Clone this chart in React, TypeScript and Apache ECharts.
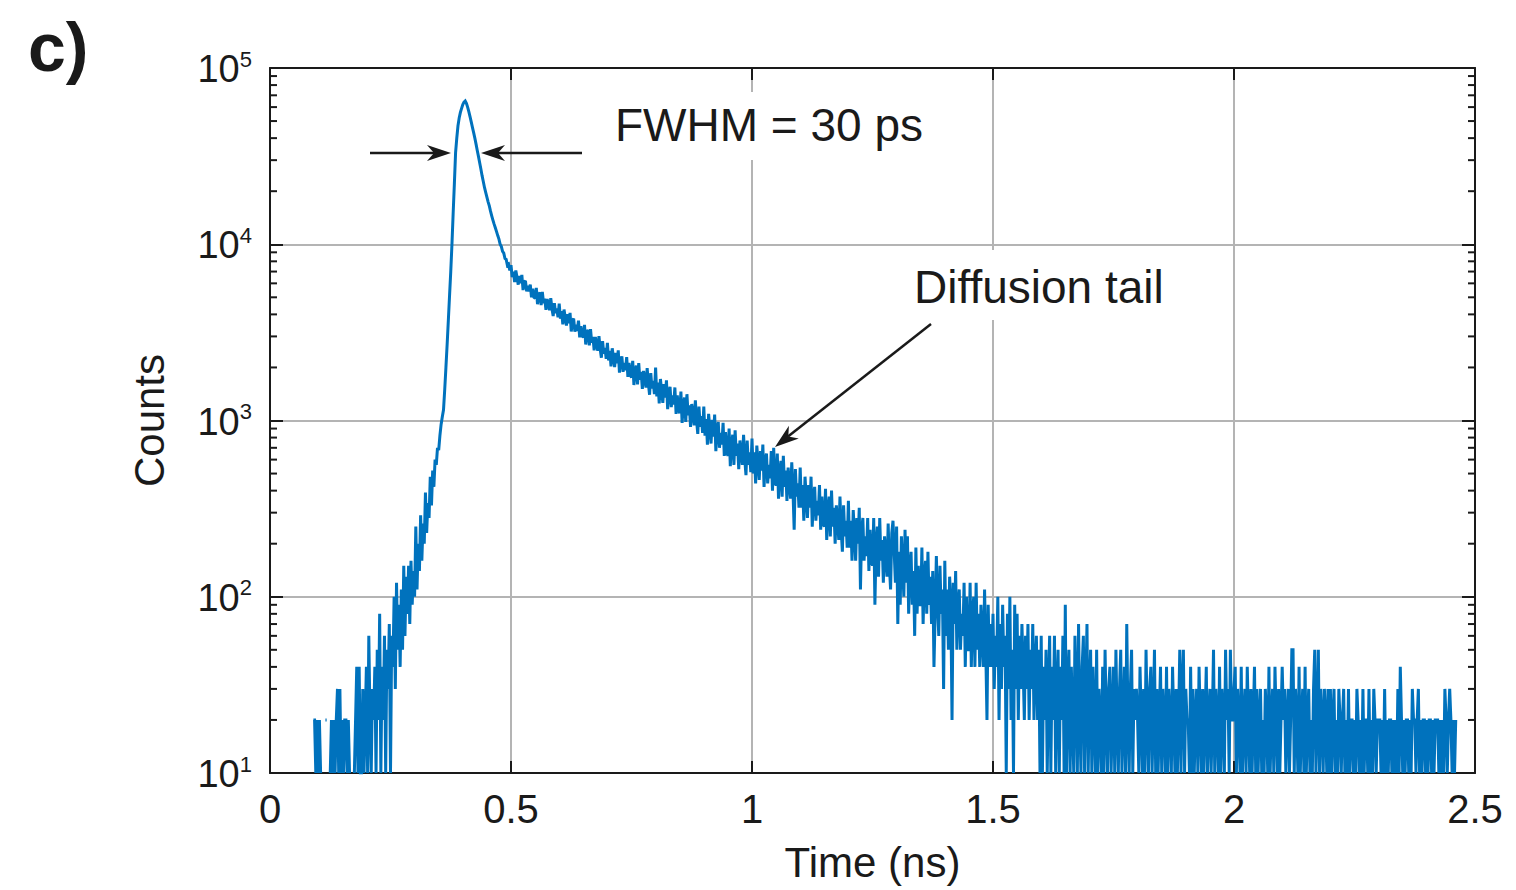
import React, { useEffect, useRef } from "react";
import * as echarts from "echarts";

// Time-correlated photon counting histogram, 2.5 ps bins starting at 0.09 ns
const BIN_START_NS = 0.09;
const BIN_WIDTH_NS = 0.0025;

// 0.0900 – 0.3550 ns (null = empty bin)
const riseCounts: (number | null)[] = [
  20, 20, 10, 20, 10, 20, 10, null, null, null, 20, 20, null, null, 10, 20, 10, 20, 10, 20,
  30, 10, 30, 10, 20, 10, 20, 20, 10, 20, 10, null, null, null, 10, 20, 40, 10, 40, 10,
  10, 30, 10, 20, 40, 10, 60, 20, 10, 30, 20, 40, 10, 50, 20, 80, 10, 40, 20, 60,
  10, 50, 30, 70, 10, 60, 40, 100, 30, 120, 50, 90, 40, 110, 50, 150, 60, 130, 80, 150,
  70, 160, 90, 140, 100, 250, 110, 200, 140, 290, 160, 260, 200, 390, 230, 340, 280, 480, 330, 520,
  420, 600, 560, 700, 680, 820, 950,
];

// 0.3575 – 0.4975 ns
const peakCounts: number[] = [
  1050, 1150, 1500, 2000, 2700, 3700, 5100, 7000, 10000, 15000,
  22000, 33000, 40000, 47000, 52000, 56000, 59000, 62000, 64000, 65000,
  63000, 60000, 56500, 53000, 49500, 46000, 43000, 40000, 37000, 34000,
  31500, 29000, 26700, 24500, 22700, 21000, 19700, 18500, 17400, 16500,
  15400, 14500, 13700, 13000, 12400, 11800, 11200, 10700, 10000, 9700,
  9100, 8900, 8300, 8200, 7600, 7700, 7100,
];

// 0.5000 – 1.4975 ns
const tailCounts: number[] = [
  7600, 6500, 7000, 6100, 7100, 6500, 5900, 6600, 6000, 6700, 5500, 6100, 6200, 5400, 5800, 5400, 5900, 5000, 5600, 5000,
  4940, 5650, 4570, 5120, 5330, 4510, 5370, 4640, 4910, 4250, 4890, 4560, 4230, 4940, 4310, 3910, 4630, 4070, 4320, 3850,
  4600, 3780, 4180, 3510, 4260, 3840, 3460, 4010, 3560, 4080, 3200, 3670, 3790, 3190, 3490, 3220, 3690, 2960, 3430, 3020,
  2960, 3490, 2700, 3110, 3270, 2670, 3300, 2760, 2980, 2500, 2980, 2720, 2490, 3010, 2550, 2270, 2820, 2390, 2580, 2240,
  2760, 2190, 2480, 2030, 2570, 2280, 2010, 2420, 2110, 2500, 1870, 2210, 2310, 1890, 2120, 1930, 2290, 1770, 2120, 1820,
  1750, 2180, 1590, 1910, 2050, 1600, 2120, 1700, 1890, 1510, 1910, 1720, 1540, 1980, 1620, 1400, 1860, 1520, 1680, 1410,
  2000, 1370, 1640, 1250, 1720, 1470, 1260, 1610, 1350, 1690, 1160, 1460, 1550, 1190, 1390, 1230, 1540, 1090, 1390, 1140,
  1100, 1460, 970, 1230, 1350, 980, 1410, 1070, 1220, 920, 1240, 1085, 940, 1300, 1000, 840, 1200, 920, 1060, 850,
  1200, 820, 1020, 730, 1090, 900, 740, 1010, 810, 1080, 670, 900, 980, 700, 850, 730, 970, 630, 860, 670,
  630, 900, 550, 740, 830, 560, 880, 630, 740, 530, 770, 650, 560, 830, 600, 490, 770, 560, 660, 510,
  790, 500, 660, 440, 720, 575, 460, 670, 520, 730, 420, 590, 650, 440, 560, 470, 670, 400, 700, 440,
  430, 650, 360, 510, 590, 370, 630, 420, 520, 350, 540, 440, 360, 580, 400, 240, 530, 370, 440, 320,
  540, 320, 430, 270, 480, 370, 280, 430, 320, 480, 250, 380, 420, 270, 350, 290, 430, 240, 370, 260,
  250, 410, 210, 310, 370, 220, 400, 250, 320, 200, 330, 270, 210, 370, 240, 180, 330, 220, 270, 190,
  350, 190, 270, 160, 310, 230, 160, 280, 200, 320, 110, 240, 280, 160, 220, 170, 280, 140, 240, 160,
  150, 280, 90, 200, 250, 130, 280, 160, 210, 120, 220, 170, 130, 260, 150, 110, 230, 270, 180, 120,
  250, 70, 180, 90, 220, 150, 100, 240, 120, 220, 80, 150, 180, 90, 140, 60, 190, 80, 150, 90,
  90, 190, 70, 130, 160, 80, 180, 90, 130, 70, 140, 40, 80, 170, 90, 60, 150, 80, 110, 30,
  160, 60, 110, 50, 130, 90, 20, 120, 70, 140, 50, 90, 110, 50, 80, 60, 120, 40, 100, 50,
  50, 120, 40, 80, 100, 40, 120, 50, 80, 40, 90, 60, 40, 110, 50, 20, 90, 40, 70, 40,
];

// 1.5000 – 2.4600 ns
const floorCounts: number[] = [
  80, 30, 60, 40, 100, 20, 70, 30, 90, 40, 60, 10, 80, 30, 100, 20, 50, 10, 90, 30,
  80, 20, 60, 30, 70, 40, 20, 60, 30, 70, 20, 50, 30, 70, 20, 40, 60, 20, 50, 10,
  60, 10, 40, 20, 50, 10, 30, 60, 10, 40, 20, 60, 10, 30, 50, 10, 40, 20, 60, 10,
  90, 10, 30, 50, 10, 40, 20, 10, 60, 30, 10, 70, 20, 10, 40, 60, 10, 30, 70, 10,
  30, 50, 10, 40, 20, 10, 50, 10, 30, 20, 10, 40, 10, 50, 20, 10, 30, 40, 10, 20,
  40, 10, 50, 20, 10, 30, 50, 10, 20, 40, 10, 70, 20, 10, 30, 50, 10, 30, 20, 30,
  20, 10, 40, 20, 10, 30, 10, 50, 20, 10, 30, 40, 10, 20, 50, 10, 30, 10, 20, 40,
  10, 30, 20, 10, 40, 10, 30, 20, 10, 40, 20, 10, 30, 10, 20, 50, 10, 30, 50, 10,
  30, 20, 20, 10, 40, 10, 30, 10, 20, 30, 10, 40, 20, 10, 30, 10, 20, 40, 10, 20,
  30, 10, 20, 50, 10, 30, 20, 10, 40, 10, 30, 20, 10, 50, 20, 30, 10, 50, 20, 20,
  30, 40, 10, 30, 20, 10, 40, 10, 20, 30, 10, 40, 20, 10, 30, 10, 20, 40, 10, 30,
  10, 20, 30, 10, 20, 10, 30, 20, 10, 40, 10, 20, 30, 10, 40, 20, 10, 30, 10, 20,
  40, 20, 30, 10, 20, 30, 10, 20, 50, 50, 10, 30, 20, 10, 40, 10, 20, 30, 10, 40,
  10, 20, 30, 10, 20, 10, 30, 50, 10, 20, 50, 10, 30, 20, 10, 30, 20, 10, 30, 10,
  30, 10, 20, 30, 10, 20, 10, 30, 20, 10, 20, 30, 10, 20, 10, 30, 10, 20, 20, 10,
  20, 10, 30, 20, 10, 20, 10, 30, 10, 20, 20, 10, 30, 10, 20, 10, 30, 20, 10, 20,
  20, 20, 10, 20, 10, 30, 10, 20, 10, 20, 20, 10, 20, 10, 20, 10, 30, 10, 40, 20,
  10, 20, 10, 20, 20, 10, 20, 10, 30, 20, 20, 10, 20, 30, 10, 20, 10, 20, 20, 10,
  20, 10, 20, 20, 10, 20, 10, 20, 20, 20, 10, 20, 10, 20, 10, 30, 20, 10, 20, 30,
  20, 10, 20, 10, 20,
];

const xTickValues = [0, 0.5, 1, 1.5, 2, 2.5];
const yMin = 10;
const yMax = 100000;
const minorTickValues = [
  20, 30, 40, 50, 60, 70, 80, 90,
  200, 300, 400, 500, 600, 700, 800, 900,
  2000, 3000, 4000, 5000, 6000, 7000, 8000, 9000,
  20000, 30000, 40000, 50000, 60000, 70000, 80000, 90000,
];

const panelLabel = "c)";
const xAxisName = "Time (ns)";
const yAxisName = "Counts";
const fwhmText = "FWHM = 30 ps";
const tailText = "Diffusion tail";

const FONT = '"Liberation Sans", Arial, Helvetica, sans-serif';
const INK = "#1a1a1a";
const LINE_BLUE = "#0072BD";
const GRID_GRAY = "#b4b4b4";

export default function App() {
  const ref = useRef<HTMLDivElement>(null);

  useEffect(() => {
    if (!ref.current) return;
    const chart = echarts.init(ref.current, null, { renderer: "svg" });

    const counts = [...riseCounts, ...peakCounts, ...tailCounts, ...floorCounts];
    const lineData = counts.map((c, i) => [
      +(BIN_START_NS + i * BIN_WIDTH_NS).toFixed(4),
      c === null ? null : c,
    ]);
    const xMax = xTickValues[xTickValues.length - 1];
    const minorData = minorTickValues.map((v) => [0, v]);

    const option: any = {
      animation: false,
      backgroundColor: "#ffffff",
      grid: { left: 270, right: 41, top: 68, bottom: 117, containLabel: false },
      xAxis: [
        {
          type: "value",
          min: 0,
          max: xMax,
          interval: 0.5,
          position: "bottom",
          axisLine: { show: true, onZero: false, lineStyle: { color: INK, width: 2 } },
          axisTick: { show: true, inside: true, length: 12, lineStyle: { color: INK, width: 2 } },
          axisLabel: {
            show: true,
            margin: 16,
            color: INK,
            fontSize: 40,
            fontFamily: FONT,
          },
          splitLine: { show: true, lineStyle: { color: GRID_GRAY, width: 2 } },
          name: xAxisName,
          nameLocation: "middle",
          nameGap: 68,
          nameTextStyle: { color: INK, fontSize: 42, fontFamily: FONT },
        },
        {
          type: "value",
          min: 0,
          max: xMax,
          interval: 0.5,
          position: "top",
          axisLine: { show: true, onZero: false, lineStyle: { color: INK, width: 2 } },
          axisTick: { show: true, inside: true, length: 12, lineStyle: { color: INK, width: 2 } },
          axisLabel: { show: false },
          splitLine: { show: false },
        },
      ],
      yAxis: [
        {
          type: "log",
          logBase: 10,
          min: yMin,
          max: yMax,
          position: "left",
          axisLine: { show: true, onZero: false, lineStyle: { color: INK, width: 2 } },
          axisTick: { show: true, inside: true, length: 13, lineStyle: { color: INK, width: 2 } },
          minorTick: { show: false },
          axisLabel: {
            show: true,
            margin: 18,
            formatter: (v: number) => `{b|10}{s|${Math.round(Math.log10(v))}}`,
            rich: {
              b: { fontSize: 38, fontFamily: FONT, color: INK, lineHeight: 40, verticalAlign: "bottom" },
              s: { fontSize: 22, fontFamily: FONT, color: INK, lineHeight: 26, verticalAlign: "top" },
            },
          },
          splitLine: { show: true, lineStyle: { color: GRID_GRAY, width: 2 } },
          name: yAxisName,
          nameLocation: "middle",
          nameGap: 100,
          nameTextStyle: { color: INK, fontSize: 42, fontFamily: FONT },
        },
        {
          type: "log",
          logBase: 10,
          min: yMin,
          max: yMax,
          position: "right",
          axisLine: { show: true, onZero: false, lineStyle: { color: INK, width: 2 } },
          axisTick: { show: true, inside: true, length: 13, lineStyle: { color: INK, width: 2 } },
          axisLabel: { show: false },
          splitLine: { show: false },
        },
      ],
      series: [
        {
          type: "line",
          xAxisIndex: 0,
          yAxisIndex: 0,
          data: lineData,
          showSymbol: false,
          symbol: "none",
          connectNulls: false,
          clip: true,
          silent: true,
          lineStyle: { color: LINE_BLUE, width: 3, join: "miter", miterLimit: 2 },
          emphasis: { disabled: true },
          z: 5,
        },
        {
          type: "custom",
          xAxisIndex: 0,
          yAxisIndex: 0,
          silent: true,
          clip: false,
          data: minorData,
          z: 6,
          renderItem: (params: any, api: any) => {
            const v = api.value(1);
            const left = api.coord([0, v]);
            const right = api.coord([xMax, v]);
            const st = { stroke: INK, lineWidth: 2 };
            return {
              type: "group",
              children: [
                { type: "line", shape: { x1: left[0], y1: left[1], x2: left[0] + 7, y2: left[1] }, style: st },
                { type: "line", shape: { x1: right[0], y1: right[1], x2: right[0] - 7, y2: right[1] }, style: st },
              ],
            };
          },
        },
      ],
      graphic: [
        {
          type: "text",
          x: 28,
          y: 47,
          z: 100,
          style: {
            text: panelLabel,
            fontSize: 68,
            fontWeight: "bold",
            fontFamily: FONT,
            fill: INK,
            align: "left",
            verticalAlign: "middle",
          },
        },
        { type: "rect", z: 90, shape: { x: 600, y: 92, width: 335, height: 68 }, style: { fill: "#ffffff" } },
        {
          type: "text",
          x: 615,
          y: 125,
          z: 100,
          style: {
            text: fwhmText,
            fontSize: 46,
            fontFamily: FONT,
            fill: INK,
            align: "left",
            verticalAlign: "middle",
          },
        },
        { type: "rect", z: 90, shape: { x: 900, y: 250, width: 275, height: 70 }, style: { fill: "#ffffff" } },
        {
          type: "text",
          x: 914,
          y: 287,
          z: 100,
          style: {
            text: tailText,
            fontSize: 46,
            fontFamily: FONT,
            fill: INK,
            align: "left",
            verticalAlign: "middle",
          },
        },
        // FWHM arrows
        { type: "line", z: 100, shape: { x1: 370, y1: 153, x2: 436, y2: 153 }, style: { stroke: INK, lineWidth: 2.5 } },
        {
          type: "polygon",
          z: 100,
          shape: { points: [[451, 153], [427, 145], [434, 153], [427, 161]] },
          style: { fill: INK },
        },
        { type: "line", z: 100, shape: { x1: 496, y1: 153, x2: 582, y2: 153 }, style: { stroke: INK, lineWidth: 2.5 } },
        {
          type: "polygon",
          z: 100,
          shape: { points: [[481, 153], [505, 145], [498, 153], [505, 161]] },
          style: { fill: INK },
        },
        // Diffusion tail arrow
        { type: "line", z: 100, shape: { x1: 931, y1: 324, x2: 788, y2: 436.5 }, style: { stroke: INK, lineWidth: 2.5 } },
        {
          type: "polygon",
          z: 100,
          shape: { points: [[775, 447], [798.8, 438.4], [788.3, 436.5], [788.9, 425.8]] },
          style: { fill: INK },
        },
      ],
    };

    chart.setOption(option);
    return () => {
      chart.dispose();
    };
  }, []);

  return (
    <div
      ref={ref}
      style={{ position: "fixed", left: 0, top: 0, width: 1516, height: 890, background: "#fff" }}
    />
  );
}
